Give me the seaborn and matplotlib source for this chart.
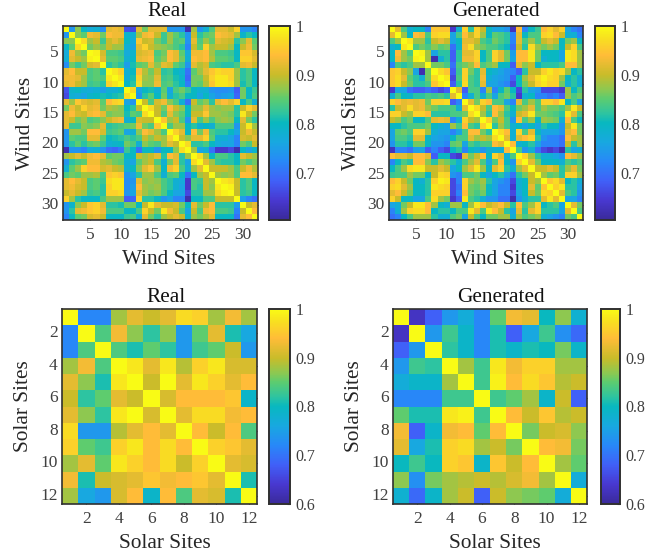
import numpy as np
import seaborn as sns
import matplotlib
matplotlib.use("Agg")
import matplotlib.pyplot as plt
from matplotlib.colors import LinearSegmentedColormap

# Correlation values, in hundredths, upper triangle row by row
wind_real = [
    [100,74,87,80,77,78,73,92,93,92,67,66,92,86,92,92,92,74,74,74,62,88,74,78,84,92,92,90,96,74,74,72],
    [100,87,85,93,92,86,94,93,93,79,78,88,93,94,90,83,88,85,82,74,90,82,85,86,94,93,92,88,79,82,80],
    [100,97,88,90,83,90,92,90,80,77,95,90,91,86,83,88,84,85,74,92,84,88,85,92,91,90,82,87,92,85],
    [100,86,88,86,90,88,88,78,76,92,96,90,88,87,86,84,82,72,90,85,96,88,90,90,88,80,90,93,86],
    [100,99,91,84,84,83,77,79,91,92,93,84,86,94,92,85,77,93,93,94,88,84,84,83,80,95,95,91],
    [100,92,85,85,84,78,80,92,93,94,85,87,94,92,86,78,94,93,94,89,85,85,84,80,96,96,92],
    [100,82,84,82,75,81,85,86,92,87,92,91,85,83,74,92,89,91,84,83,82,82,84,92,93,90],
    [100,98,96,78,80,94,89,86,90,82,83,80,78,70,85,88,92,95,97,96,96,88,82,84,80],
    [100,98,78,81,96,88,87,92,83,84,81,79,69,86,86,90,96,98,98,96,88,82,84,80],
    [100,80,82,97,87,87,93,84,85,82,80,71,86,85,89,95,98,98,97,88,81,84,80],
    [100,97,76,80,81,78,85,76,84,86,83,80,78,78,74,73,73,74,68,86,80,83],
    [100,74,82,85,80,86,78,82,84,80,80,76,80,76,74,75,76,69,86,80,84],
    [100,90,84,91,93,87,84,78,70,90,85,87,82,92,94,92,96,80,84,78],
    [100,97,90,86,94,90,87,80,88,88,92,88,87,88,88,82,90,96,92],
    [100,90,84,92,87,85,80,90,90,95,88,88,87,86,82,98,90,86],
    [100,95,88,90,84,74,92,84,88,84,87,88,87,80,92,86,82],
    [100,84,88,88,80,82,78,80,78,84,84,84,74,90,98,88],
    [100,96,92,80,94,86,93,84,82,82,80,76,90,93,90],
    [100,90,87,92,92,96,85,78,78,76,72,91,90,92],
    [100,97,82,82,84,80,77,76,76,72,86,84,90],
    [100,88,76,78,70,64,64,66,62,80,76,79],
    [100,97,88,80,84,84,82,80,92,90,88],
    [100,92,88,83,82,82,80,86,84,86],
    [100,90,90,90,88,84,90,93,89],
    [100,88,87,88,84,94,94,92],
    [100,98,97,90,82,84,80],
    [100,99,90,82,84,80],
    [100,90,82,83,80],
    [100,75,72,70],
    [100,90,92],
    [100,94],
    [100],
]
wind_gen = [
    [100,92,84,78,80,80,72,95,95,95,64,78,96,82,96,90,80,76,76,74,63,94,72,80,83,94,96,92,96,76,72,70],
    [100,88,80,94,93,84,96,97,97,76,84,94,90,96,88,80,85,84,82,72,92,80,84,84,96,97,94,90,78,78,72],
    [100,98,88,88,82,90,92,90,76,80,92,92,90,84,82,86,84,82,72,92,84,88,84,90,92,90,80,86,88,80],
    [100,84,86,84,87,85,86,70,79,93,97,88,86,84,84,82,80,70,90,82,97,88,86,88,86,80,90,96,84],
    [100,99,88,76,82,82,68,82,92,92,96,80,84,96,92,86,75,94,94,98,86,80,80,80,76,98,97,88],
    [100,88,62,78,82,68,82,93,93,96,80,84,96,92,86,76,94,94,98,86,78,80,80,76,98,97,88],
    [100,86,86,84,70,84,86,88,94,84,86,88,80,80,68,92,87,90,80,82,82,82,84,94,94,88],
    [100,97,95,68,83,96,86,82,92,80,78,76,74,72,68,82,90,90,96,98,96,97,88,80,82],
    [100,98,66,84,96,84,82,93,78,76,75,74,68,80,88,92,97,99,97,96,88,80,82,78],
    [100,68,82,97,84,82,92,76,76,74,72,66,80,86,90,96,98,96,96,86,78,82,78],
    [100,92,68,84,84,72,88,72,80,85,80,66,82,76,74,66,66,66,64,88,80,84],
    [100,72,78,84,78,84,76,84,86,82,64,78,80,72,72,70,72,68,88,84,86],
    [100,92,86,96,94,84,84,76,72,92,84,88,84,96,96,94,98,80,84,76],
    [100,97,90,84,94,92,84,80,86,88,92,84,88,86,86,84,88,98,90],
    [100,88,82,94,88,82,78,90,92,98,86,86,85,84,82,98,92,84],
    [100,96,86,90,84,74,94,84,88,80,88,87,86,78,94,84,80],
    [100,82,88,84,78,80,76,80,76,82,80,80,74,90,98,86],
    [100,97,94,78,96,84,92,80,76,76,76,74,92,94,86],
    [100,92,78,92,94,96,82,74,72,72,70,94,90,88],
    [100,94,78,80,82,76,72,72,72,70,90,82,88],
    [100,84,74,78,70,66,64,66,62,82,76,78],
    [100,96,88,82,78,78,76,74,94,92,88],
    [100,92,86,80,80,80,78,84,82,84],
    [100,90,90,92,90,82,88,92,86],
    [100,88,85,86,82,96,96,88],
    [100,95,97,92,80,82,78],
    [100,96,98,82,82,76],
    [100,92,84,82,74],
    [100,76,76,72],
    [100,92,86],
    [100,84],
    [100],
]
solar_real = [
    [100,72,72,88,92,90,92,97,96,88,93,88],
    [100,84,93,87,82,87,74,85,92,81,76],
    [100,84,81,85,82,74,83,85,90,74],
    [100,98,92,98,89,96,98,91,91],
    [100,90,100,92,98,96,92,94],
    [100,91,94,94,94,95,79],
    [100,92,97,97,93,94],
    [100,94,90,94,84],
    [100,96,95,92],
    [100,92,91],
    [100,81],
    [100],
]
solar_gen = [
    [100,63,68,74,77,72,85,93,92,80,87,78],
    [100,74,83,79,72,81,68,76,83,73,69],
    [100,82,79,72,81,79,81,80,86,79],
    [100,88,83,98,93,96,96,88,88],
    [100,83,99,94,97,95,89,90],
    [100,83,85,88,79,90,68],
    [100,94,90,95,89,90],
    [100,86,90,91,87],
    [100,94,93,86],
    [100,88,85],
    [100,77],
    [100],
]

# colours, low to high
parula_vals = [0.60, 0.64, 0.68, 0.72, 0.76, 0.80, 0.82, 0.85, 0.87, 0.90, 0.94, 0.975, 1.0]
parula_cols = ["#3a2a9a", "#4838d0", "#4060f8", "#2888f8", "#18a8e0", "#08b8c0", "#2ec4a0",
               "#5ccc70", "#8ec850", "#c9bc2a", "#ffbc38", "#f8e020", "#f9fb15"]
parula = LinearSegmentedColormap.from_list("parula", [((v - 0.6) / 0.4, c) for v, c in zip(parula_vals, parula_cols)])

sns.set_theme(style="white")
plt.rcParams["font.family"] = ["Liberation Serif", "DejaVu Serif"]

W, H = 670, 559


def full_matrix(rows):
    n = len(rows)
    mat = np.zeros((n, n))
    for i, row in enumerate(rows):
        if len(row) != n - i:
            raise ValueError(f"row {i} has {len(row)} values")
        mat[i, i:] = row
        mat[i:, i] = row
    return mat / 100


def box(left, right, top, bottom):
    return [left / W, 1 - bottom / H, (right - left) / W, (bottom - top) / H]


def draw_panel(fig, rows, title, name, ax_px, cb_px, ticks, vmin, cb_ticks, title_dx, label_dx, title_pad):
    ax = fig.add_axes(box(*ax_px))
    cax = fig.add_axes(box(*cb_px))
    sns.heatmap(full_matrix(rows), ax=ax, cbar_ax=cax, cmap=parula, vmin=vmin, vmax=1)
    width = ax_px[1] - ax_px[0]
    ax.set_xticks([t - 0.5 for t in ticks])
    ax.set_yticks([t - 0.5 for t in ticks])
    ax.set_xticklabels(ticks, rotation=0)
    ax.set_yticklabels(ticks, rotation=0)
    ax.tick_params(direction="in", length=2, width=0.8, color="#262626", top=True, right=True, bottom=True, left=True,
                   labelsize=12.5, labelcolor="#404040", pad=3)
    ax.tick_params(axis="x", pad=5)
    # the titles and x labels sit a little right of the axes centre in the original
    ax.set_title(title, fontsize=15.3, color="#111111", pad=title_pad, x=0.5 + title_dx / width)
    ax.set_xlabel(name, fontsize=15.3, color="#262626", labelpad=5, x=0.5 + label_dx / width)
    ax.set_ylabel(name, fontsize=15.3, color="#262626", labelpad=5)
    for s in ax.spines.values():
        s.set_visible(True)
        s.set_color("#303030")
        s.set_linewidth(1.2)
    cax.set_yticks(cb_ticks)
    cax.set_yticklabels([f"{t:g}" for t in cb_ticks])
    cax.tick_params(direction="in", length=2, width=0.8, color="#262626", right=True, left=False,
                    labelsize=11.5, labelcolor="#404040", pad=4)
    for s in cax.spines.values():
        s.set_visible(True)
        s.set_color("#303030")
        s.set_linewidth(1.2)


fig = plt.figure(figsize=(W / 100, H / 100), dpi=100)

wind_ticks = [5, 10, 15, 20, 25, 30]
solar_ticks = [2, 4, 6, 8, 10, 12]

draw_panel(fig, wind_real, "Real", "Wind Sites", (63, 258, 26, 220), (269, 290, 26, 220), wind_ticks, 0.604,
           [0.7, 0.8, 0.9, 1], 7, 8, 7)
draw_panel(fig, wind_gen, "Generated", "Wind Sites", (389, 583, 26, 220), (595, 615, 26, 220), wind_ticks, 0.604,
           [0.7, 0.8, 0.9, 1], 10, 12, 7)
draw_panel(fig, solar_real, "Real", "Solar Sites", (62, 257, 309, 504), (269, 290, 309, 504), solar_ticks, 0.6,
           [0.6, 0.7, 0.8, 0.9, 1], 7, 5, 5)
draw_panel(fig, solar_gen, "Generated", "Solar Sites", (393, 587, 309, 504), (601, 620, 309, 504), solar_ticks, 0.6,
           [0.6, 0.7, 0.8, 0.9, 1], 11, 5, 5)

fig.savefig("out.png", dpi=100)
